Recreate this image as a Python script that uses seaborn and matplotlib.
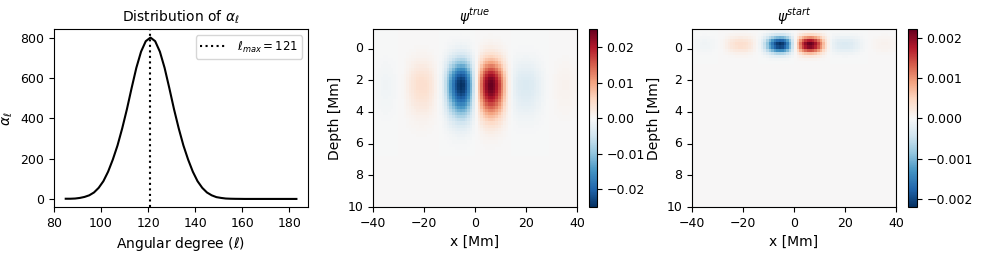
import numpy as np
import pandas as pd
import matplotlib
matplotlib.use("Agg")
import matplotlib.pyplot as plt
import seaborn as sns

plt.rcParams["xtick.labelsize"] = 9
plt.rcParams["ytick.labelsize"] = 9
plt.rcParams["axes.titlesize"] = 10

# --- panel 1: distribution of alpha_l ---
ell = [85, 87, 89, 91, 93, 95, 97, 99, 101, 103, 105, 107, 109, 111, 113, 115, 117, 119,
       121, 123, 125, 127, 129, 131, 133, 135, 137, 139, 141, 143, 145, 147, 149, 151,
       153, 155, 157, 159, 161, 165, 170, 175, 183]
alpha = [1, 1, 2, 5, 10, 18, 32, 55, 88, 135, 195, 265, 350, 445, 550, 650, 730, 782,
         800, 782, 730, 650, 550, 445, 350, 265, 195, 135, 88, 55, 32, 18, 9, 5,
         2, 1, 0.5, 0.3, 0, 0, 0, 0, 0]
ell_max = 121

# --- panels 2/3: psi fields, read as x-profile times depth-profile ---
x_centers = np.arange(-39.5, 40, 1.0)          # cell centres [Mm]
x_prof = [-0.015, -0.02, -0.03, -0.035, -0.04, -0.04, -0.035, -0.03, -0.02, -0.01,
          0.0, 0.01, 0.03, 0.06, 0.09, 0.12, 0.14, 0.16, 0.17, 0.17,
          0.165, 0.15, 0.12, 0.09, 0.05, 0.01, -0.04, -0.12, -0.24, -0.40,
          -0.57, -0.73, -0.87, -0.96, -1.0, -0.97, -0.87, -0.70, -0.47, -0.22,
          0.04, 0.30, 0.54, 0.74, 0.89, 0.98, 1.0, 0.95, 0.84, 0.68,
          0.50, 0.32, 0.17, 0.05, -0.03, -0.08, -0.11, -0.13, -0.14, -0.145,
          -0.145, -0.14, -0.13, -0.11, -0.09, -0.07, -0.045, -0.025, -0.01, 0.0,
          0.01, 0.02, 0.03, 0.035, 0.04, 0.04, 0.04, 0.035, 0.03, 0.025]

depth_centers = np.round(np.arange(-1.1, 10.0, 0.2), 2)
true_depth = [0.004, 0.008, 0.014, 0.024, 0.04, 0.064, 0.10, 0.15, 0.22, 0.30,
              0.40, 0.51, 0.63, 0.75, 0.85, 0.93, 0.98, 1.0, 0.99, 0.96,
              0.91, 0.84, 0.76, 0.67, 0.58, 0.49, 0.40, 0.32, 0.25, 0.19,
              0.14, 0.10, 0.072, 0.05, 0.034, 0.022, 0.014, 0.009, 0.005, 0.003]
start_depth = [0.06, 0.2, 0.47, 0.8, 0.99, 0.92, 0.63, 0.31, 0.11, 0.03, 0.006]
true_amp = 0.025
start_amp = 0.0022


def pad(prof, n):
    return np.r_[prof, np.zeros(n - len(prof))]


n_depth = len(depth_centers)
psi_true = pd.DataFrame(np.outer(pad(true_depth, n_depth), x_prof) * true_amp,
                        index=depth_centers, columns=x_centers)
psi_start = pd.DataFrame(np.outer(pad(start_depth, n_depth), x_prof) * start_amp,
                         index=depth_centers, columns=x_centers)

fig = plt.figure(figsize=(9.81, 2.56), dpi=100)
ax1 = fig.add_axes([0.0550, 0.1914, 0.2589, 0.6934])
ax2 = fig.add_axes([0.3802, 0.1914, 0.2080, 0.6934])
cax2 = fig.add_axes([0.6007, 0.1914, 0.0076, 0.6934])
ax3 = fig.add_axes([0.7054, 0.1914, 0.2080, 0.6934])
cax3 = fig.add_axes([0.9259, 0.1914, 0.0085, 0.6934])

sns.lineplot(x=ell, y=alpha, color="black", lw=1.5, ax=ax1)
ax1.axvline(ell_max, color="black", ls=":", lw=1.5, label=r"$\ell_{max} = %d$" % ell_max)
ax1.legend(loc="upper right", fontsize=8.5, handlelength=2.3, borderpad=0.35)
ax1.set_title(r"Distribution of $\alpha_\ell$")
ax1.set_xlabel(r"Angular degree ($\ell$)")
ax1.set_ylabel(r"$\alpha_\ell$")
ax1.set_xticks([80, 100, 120, 140, 160, 180])
ax1.set_yticks([0, 200, 400, 600, 800])


def draw_field(ax, cax, df, vlim, title):
    sns.heatmap(df, cmap="RdBu_r", vmin=-vlim, vmax=vlim, ax=ax, cbar_ax=cax,
                xticklabels=False, yticklabels=False)
    for sp in ax.spines.values():
        sp.set_visible(True)
        sp.set_linewidth(0.8)
    cb = ax.collections[0].colorbar
    cb.outline.set_linewidth(0.8)
    cb.outline.set_visible(True)
    # map data coords to cell-index coords
    x0, dx = -40.0, 1.0
    d0, dd = -1.2, 0.2
    xt = [-40, -20, 0, 20, 40]
    yt = [0, 2, 4, 6, 8, 10]
    ax.set_xticks([(v - x0) / dx for v in xt], [str(v).replace("-", "\u2212") for v in xt],
                  rotation=0)
    ax.set_yticks([(v - d0) / dd for v in yt], [str(v) for v in yt], rotation=0, va="center")
    ax.tick_params(left=True, bottom=True, length=3.5, width=0.8)
    ax.set_xlabel("x [Mm]")
    ax.set_ylabel("Depth [Mm]")
    ax.set_title(title)


draw_field(ax2, cax2, psi_true, true_amp, r"$\psi^{true}$")
draw_field(ax3, cax3, psi_start, start_amp, r"$\psi^{start}$")

fig.savefig("out.png", dpi=100)
